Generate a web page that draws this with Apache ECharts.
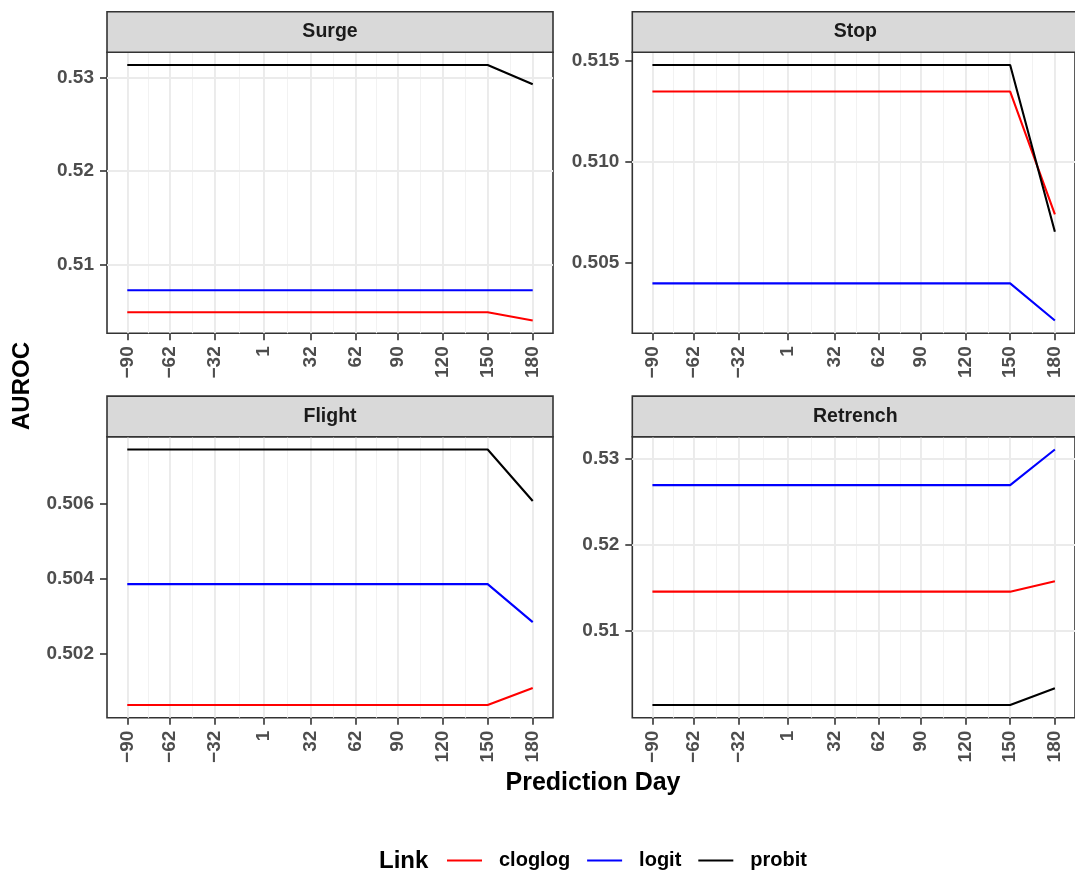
<!DOCTYPE html>
<html>
<head>
<meta charset="utf-8">
<script src="https://cdn.jsdelivr.net/npm/echarts@6/dist/echarts.min.js"></script>
<style>
  html, body { margin: 0; padding: 0; background: #ffffff; }
  #chart { width: 1075px; height: 874px; }
</style>
</head>
<body>
<div id="chart"></div>
<script>
// Prediction days (x breaks) and the link functions compared
const days = [-90, -62, -32, 1, 32, 62, 90, 120, 150, 180];
const dayMinor = [-76, -47, -15.5, 16.5, 47, 76, 105, 135, 165];
const links = ['cloglog', 'logit', 'probit'];
const linkColors = ['#FF0000', '#0000FF', '#000000'];
const panels = ['Surge', 'Stop', 'Flight', 'Retrench'];

// AUROC by prediction day, one array per panel and link
const surgeCloglog = [0.50486, 0.50486, 0.50486, 0.50486, 0.50486, 0.50486, 0.50486, 0.50486, 0.50486, 0.50397];
const surgeLogit   = [0.50721, 0.50721, 0.50721, 0.50721, 0.50721, 0.50721, 0.50721, 0.50721, 0.50721, 0.50722];
const surgeProbit  = [0.53135, 0.53135, 0.53135, 0.53135, 0.53135, 0.53135, 0.53135, 0.53135, 0.53135, 0.52929];

const stopCloglog = [0.51348, 0.51348, 0.51348, 0.51348, 0.51348, 0.51348, 0.51348, 0.51348, 0.51348, 0.50740];
const stopLogit   = [0.50398, 0.50398, 0.50398, 0.50398, 0.50398, 0.50398, 0.50398, 0.50398, 0.50398, 0.50214];
const stopProbit  = [0.51479, 0.51479, 0.51479, 0.51479, 0.51479, 0.51479, 0.51479, 0.51479, 0.51479, 0.50654];

const flightCloglog = [0.50064, 0.50064, 0.50064, 0.50064, 0.50064, 0.50064, 0.50064, 0.50064, 0.50064, 0.50109];
const flightLogit   = [0.50385, 0.50385, 0.50385, 0.50385, 0.50385, 0.50385, 0.50385, 0.50385, 0.50385, 0.50284];
const flightProbit  = [0.50743, 0.50743, 0.50743, 0.50743, 0.50743, 0.50743, 0.50743, 0.50743, 0.50743, 0.50606];

const retrenchCloglog = [0.51460, 0.51460, 0.51460, 0.51460, 0.51460, 0.51460, 0.51460, 0.51460, 0.51460, 0.51580];
const retrenchLogit   = [0.52699, 0.52699, 0.52699, 0.52699, 0.52699, 0.52699, 0.52699, 0.52699, 0.52699, 0.53113];
const retrenchProbit  = [0.50143, 0.50143, 0.50143, 0.50143, 0.50143, 0.50143, 0.50143, 0.50143, 0.50143, 0.50338];

// y tick labels and minor grid values per panel
const surgeTicks = [0.51, 0.52, 0.53];
const surgeMinor = [0.505, 0.515, 0.525];
const stopTicks = [0.505, 0.510, 0.515];
const stopMinor = [0.5025, 0.5075, 0.5125];
const flightTicks = [0.502, 0.504, 0.506];
const flightMinor = [0.501, 0.503, 0.505, 0.507];
const retrenchTicks = [0.51, 0.52, 0.53];
const retrenchMinor = [0.505, 0.515, 0.525];

const panelSeries = [
  [surgeCloglog, surgeLogit, surgeProbit],
  [stopCloglog, stopLogit, stopProbit],
  [flightCloglog, flightLogit, flightProbit],
  [retrenchCloglog, retrenchLogit, retrenchProbit]
];
const panelTicks = [surgeTicks, stopTicks, flightTicks, retrenchTicks];
const panelMinor = [surgeMinor, stopMinor, flightMinor, retrenchMinor];
const panelDecimals = [2, 3, 3, 2];

// facet layout
const FONT = '"Liberation Sans", Arial, Helvetica, sans-serif';
const PW = 446, PH = 281, STRIP_H = 40.6;
const boxes = [
  { left: 107, top: 52.3 },
  { left: 632.3, top: 52.3 },
  { left: 107, top: 436.7 },
  { left: 632.3, top: 436.7 }
];
const X_MIN = days[0] - (days[days.length - 1] - days[0]) * 0.05;
const X_MAX = days[days.length - 1] + (days[days.length - 1] - days[0]) * 0.05;

const minusFmt = v => (v < 0 ? '\u2212' + Math.abs(v) : String(v));

const grids = [], xAxes = [], yAxes = [], series = [], graphics = [];

panels.forEach((name, i) => {
  const b = boxes[i];
  grids.push({
    left: b.left, top: b.top, width: PW, height: PH,
    show: true, backgroundColor: '#ffffff',
    borderColor: '#333333', borderWidth: 1.6
  });

  xAxes.push({
    type: 'value', gridIndex: i, min: X_MIN, max: X_MAX, position: 'bottom',
    axisLine: { show: false, onZero: false },
    axisTick: { show: true, length: 7, customValues: days, lineStyle: { color: '#333333', width: 1.6 } },
    axisLabel: {
      customValues: days, rotate: 90, margin: 13, formatter: minusFmt,
      color: '#4D4D4D', fontFamily: FONT, fontWeight: 'bold', fontSize: 19
    },
    splitLine: { show: false }
  });

  const all = [].concat(...panelSeries[i]);
  const lo = Math.min(...all), hi = Math.max(...all), pad = (hi - lo) * 0.05;
  const dec = panelDecimals[i];
  yAxes.push({
    type: 'value', gridIndex: i, min: lo - pad, max: hi + pad, position: 'left',
    axisLine: { show: false, onZero: false },
    axisTick: { show: true, length: 7, customValues: panelTicks[i], lineStyle: { color: '#333333', width: 1.6 } },
    axisLabel: {
      customValues: panelTicks[i], margin: 13, formatter: v => v.toFixed(dec),
      color: '#4D4D4D', fontFamily: FONT, fontWeight: 'bold', fontSize: 19
    },
    splitLine: { show: false }
  });

  // panel grid lines (major + minor) drawn on the panel scales
  const major = { color: '#EBEBEB', width: 1.9, type: 'solid' };
  const minor = { color: '#F2F2F2', width: 1.1, type: 'solid' };
  const gridLines = []
    .concat(dayMinor.map(v => ({ xAxis: v, lineStyle: minor })))
    .concat(panelMinor[i].map(v => ({ yAxis: v, lineStyle: minor })))
    .concat(days.map(v => ({ xAxis: v, lineStyle: major })))
    .concat(panelTicks[i].map(v => ({ yAxis: v, lineStyle: major })));
  series.push({
    type: 'line', name: 'panel-grid-' + i, xAxisIndex: i, yAxisIndex: i,
    data: [], silent: true, animation: false,
    markLine: {
      silent: true, animation: false, z: 1,
      symbol: ['none', 'none'], label: { show: false },
      emphasis: { disabled: true },
      data: gridLines
    }
  });

  links.forEach((link, k) => {
    series.push({
      type: 'line', name: link, xAxisIndex: i, yAxisIndex: i,
      data: days.map((d, j) => [d, panelSeries[i][k][j]]),
      symbol: 'none', showSymbol: false, animation: false, z: 3,
      color: linkColors[k],
      lineStyle: { color: linkColors[k], width: 2.1 }
    });
  });

  // strip
  graphics.push({
    type: 'rect', z: 10,
    shape: { x: b.left, y: b.top - STRIP_H, width: PW, height: STRIP_H },
    style: { fill: '#D9D9D9', stroke: '#333333', lineWidth: 1.6 }
  });
  graphics.push({
    type: 'text', z: 11, x: b.left + PW / 2, y: b.top - STRIP_H / 2,
    style: {
      text: name, fill: '#1A1A1A', font: 'bold 19.5px ' + FONT,
      align: 'center', verticalAlign: 'middle',
      textAlign: 'center', textVerticalAlign: 'middle'
    }
  });
});

// axis titles and legend title
graphics.push({
  type: 'text', z: 11, x: 22, y: 386, rotation: Math.PI / 2,
  style: {
    text: 'AUROC', fill: '#000000', font: 'bold 24px ' + FONT,
    align: 'center', verticalAlign: 'middle', textAlign: 'center', textVerticalAlign: 'middle'
  }
});
graphics.push({
  type: 'text', z: 11, x: 593, y: 783,
  style: {
    text: 'Prediction Day', fill: '#000000', font: 'bold 25px ' + FONT,
    align: 'center', verticalAlign: 'middle', textAlign: 'center', textVerticalAlign: 'middle'
  }
});
graphics.push({
  type: 'text', z: 11, x: 379, y: 861,
  style: {
    text: 'Link', fill: '#000000', font: 'bold 24px ' + FONT,
    align: 'left', verticalAlign: 'middle', textAlign: 'left', textVerticalAlign: 'middle'
  }
});

const chart = echarts.init(document.getElementById('chart'), null, { renderer: 'canvas' });
chart.setOption({
  animation: false,
  backgroundColor: '#ffffff',
  grid: grids,
  xAxis: xAxes,
  yAxis: yAxes,
  series: series,
  legend: {
    data: links, left: 447, top: 850.5, orient: 'horizontal', padding: 0,
    icon: 'rect', itemWidth: 35, itemHeight: 2.1, itemGap: 17,
    textStyle: {
      color: '#000000', fontFamily: FONT, fontWeight: 'bold', fontSize: 20,
      padding: [0, 0, 0, 12]
    },
    selectedMode: false
  },
  graphic: { elements: graphics }
});
</script>
</body>
</html>
